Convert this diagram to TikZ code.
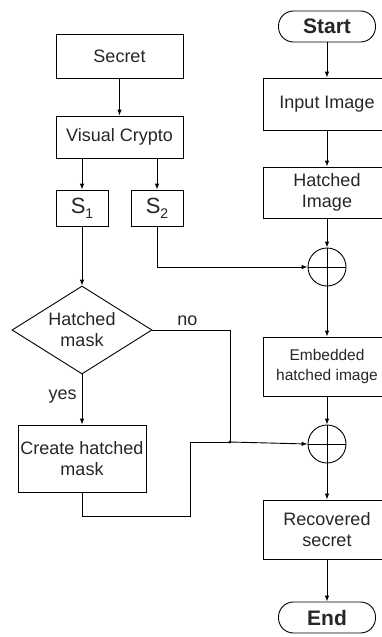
\documentclass[tikz,border=0pt]{standalone}
\usepackage{fontspec}
\setmainfont{Liberation Sans}
\usetikzlibrary{shapes.geometric,arrows.meta}
\begin{document}
\begin{tikzpicture}[x=1pt,y=-1pt,
  line width=0.9pt,
  every node/.style={text=black!85},
  fnt/.style={font=\fontsize{18}{21}\selectfont},
  box/.style={draw,rectangle,fnt,align=center,inner sep=0pt},
  term/.style={draw,rectangle,rounded corners=15pt,font=\fontsize{21}{24}\selectfont\bfseries,inner sep=0pt,minimum width=97pt,minimum height=31pt},
  xorc/.style={draw,circle,minimum size=38pt,inner sep=0pt},
  arr/.style={-{Latex[length=6pt,width=4.5pt]}},
  lbl/.style={fnt,inner sep=0pt},
  sbox/.style={box,minimum width=52pt,minimum height=36pt,font=\fontsize{22}{24}\selectfont}
]
\clip (0,0) rectangle (382,637);
% left column
\node[box,minimum width=127pt,minimum height=44pt] (secret) at (119.5,56) {Secret};
\node[box,minimum width=127pt,minimum height=42pt] (vc) at (119.5,137) {Visual Crypto};
\node[sbox] (s1) at (82,208) {S\raisebox{-5pt}{\fontsize{14}{14}\selectfont 1}};
\node[sbox] (s2) at (157,208) {S\raisebox{-5pt}{\fontsize{14}{14}\selectfont 2}};
\node[draw,diamond,aspect=1.59,minimum width=140pt,minimum height=88pt,inner sep=0pt,fnt,align=center] (dec) at (82,330) {Hatched\\mask};
\node[box,minimum width=128pt,minimum height=67pt] (chm) at (82,458.5) {Create hatched\\mask};
% right column
\node[term] (start) at (327,26.5) {Start};
\node[box,minimum width=128pt,minimum height=52pt] (input) at (327,104) {Input Image};
\node[box,minimum width=128pt,minimum height=51pt] (hatch) at (327,192.5) {Hatched\\Image};
\node[xorc] (c1) at (327,267) {};
\node[box,minimum width=128pt,minimum height=59pt,font=\fontsize{15.5}{20}\selectfont] (emb) at (327,366.5) {Embedded\\hatched image};
\node[xorc] (c2) at (327,444) {};
\node[box,minimum width=128pt,minimum height=59pt] (rec) at (327,529.5) {Recovered\\secret};
\node[term] (end) at (327,617.5) {End};
% crosses
\draw (c1.north) -- (c1.south) (c1.west) -- (c1.east);
\draw (c2.north) -- (c2.south) (c2.west) -- (c2.east);
% coordinates
\coordinate (j) at (230,442);
\coordinate (nc) at (230,330);
\coordinate (m1) at (82,516);
\coordinate (m2) at (190,516);
\coordinate (m3) at (190,442);
% connectors
\draw[arr] (secret) -- (vc);
\draw[arr] (vc.south -| s1) -- (s1);
\draw[arr] (vc.south -| s2) -- (s2);
\draw[arr] (s1) -- (dec.north);
\draw[arr] (s2.south) |- (c1.west);
\draw[arr] (dec.south) -- node[lbl,left=5pt,pos=0.45] (yes) {yes} (chm.north);
\draw (dec.east) -- node[lbl,above=4pt,pos=0.45] (no) {no} (nc) -- (j);
\draw (chm.south) -- (m1) -- (m2) -- (m3) -- (j);
\draw[arr] (j) -- (c2.west);
\fill (j) circle (1.6pt);
\draw[arr] (start) -- (input);
\draw[arr] (input) -- (hatch);
\draw[arr] (hatch) -- (c1.north);
\draw[arr] (c1.south) -- (emb.north);
\draw[arr] (emb) -- (c2.north);
\draw[arr] (c2.south) -- (rec.north);
\draw[arr] (rec) -- (end);
\end{tikzpicture}
\end{document}
